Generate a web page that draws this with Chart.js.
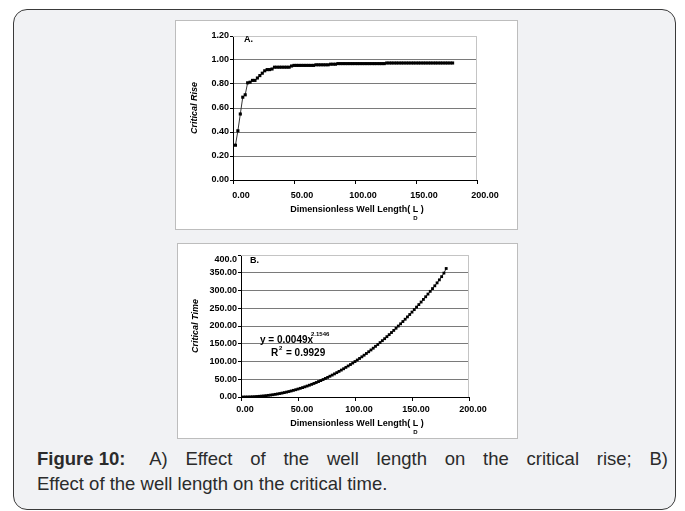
<!DOCTYPE html>
<html>
<head>
<meta charset="utf-8">
<script src="https://cdn.jsdelivr.net/npm/chart.js@4.4.0/dist/chart.umd.min.js"></script>
<style>
  body { margin: 0; width: 685px; height: 511px; position: relative; overflow: hidden; background: #fff;
         font-family: "Liberation Sans", Arial, sans-serif; }
  #frame { position: absolute; left: 13px; top: 9px; width: 663px; height: 501px; box-sizing: border-box;
           border: 1.5px solid #3a3a3a; border-radius: 14px; background: #f1f2f4; }
  .panel { position: absolute; background: #fff; border: 1px solid #bdbdbd; box-sizing: border-box; }
  #panelA { left: 175px; top: 20px; width: 343px; height: 210px; }
  #panelB { left: 177px; top: 243px; width: 341px; height: 196px; }
  canvas { position: absolute; }
  #chartA { left: 175px; top: 20px; }
  #chartB { left: 177px; top: 243px; }
  .cap { position: absolute; left: 37px; width: 631px; font-size: 18.5px; line-height: 25px; color: #2b2b2b; white-space: nowrap; }
  #cap1 { top: 446px; text-align: justify; text-align-last: justify; white-space: normal; }
  #cap1 b { display: inline-block; margin-right: 7px; }
  #cap2 { top: 471px; }
</style>
</head>
<body>
<div id="frame"></div>
<div class="panel" id="panelA"></div>
<div class="panel" id="panelB"></div>
<canvas id="chartA" width="343" height="210"></canvas>
<canvas id="chartB" width="341" height="196"></canvas>
<div class="cap" id="cap1"><b>Figure 10:</b> A) Effect of the well length on the critical rise; B)</div>
<div class="cap" id="cap2">Effect of the well length on the critical time.</div>

<script>
// dimensionless well length L_D (same points in both panels)
const wellLength = [2, 4, 6, 8, 10, 12, 14, 16, 18, 20, 22, 24, 26, 28, 30, 32, 34, 36, 38, 40,
    42, 44, 46, 48, 50, 52, 54, 56, 58, 60, 62, 64, 66, 68, 70, 72, 74, 76, 78, 80,
    82, 84, 86, 88, 90, 92, 94, 96, 98, 100, 102, 104, 106, 108, 110, 112, 114, 116, 118, 120,
    122, 124, 126, 128, 130, 132, 134, 136, 138, 140, 142, 144, 146, 148, 150, 152, 154, 156, 158, 160,
    162, 164, 166, 168, 170, 172, 174, 176, 178, 180];

// panel A: critical rise
const criticalRise = [0.29, 0.41, 0.55, 0.69, 0.71, 0.81, 0.815, 0.83, 0.83, 0.85, 0.87, 0.89, 0.91, 0.92, 0.92, 0.925,
    0.94, 0.94, 0.94, 0.94, 0.94, 0.94, 0.94, 0.95,
    0.955, 0.955, 0.955, 0.955, 0.955, 0.955, 0.955, 0.955, 0.955,
    0.96, 0.96, 0.96, 0.96, 0.96, 0.96, 0.965, 0.965, 0.965,
    0.97, 0.97, 0.97, 0.97, 0.97, 0.97, 0.97, 0.97, 0.97, 0.97,
    0.97, 0.97, 0.97, 0.97, 0.97, 0.97, 0.97, 0.97, 0.97, 0.97,
    0.975, 0.975, 0.975, 0.975, 0.975, 0.975, 0.975, 0.975, 0.975, 0.975,
    0.975, 0.975, 0.975, 0.975, 0.975, 0.975, 0.975, 0.975, 0.975, 0.975,
    0.975, 0.975, 0.975, 0.975, 0.975, 0.975, 0.975, 0.975];

// panel B: critical time
const criticalTime = [0.02, 0.10, 0.23, 0.43, 0.70, 1.04, 1.44, 1.93, 2.48, 3.11, 3.82, 4.61, 5.48, 6.43, 7.46,
    8.58, 9.77, 11.05, 12.42, 13.87, 15.40, 17.03, 18.74, 20.54, 22.43, 24.41, 26.48, 28.63, 30.87, 33.22,
    35.66, 38.18, 40.79, 43.50, 46.31, 49.20, 52.19, 55.28, 58.46, 61.75, 65.14, 68.60, 72.15, 75.82, 79.58,
    83.45, 87.42, 91.45, 95.62, 99.86, 104.2, 108.6, 113.2, 117.8, 122.6, 127.5, 132.5, 137.5, 142.7, 147.9,
    153.3, 158.7, 164.3, 170.0, 175.7, 181.6, 187.6, 193.7, 199.9, 206.2, 212.6, 219.1, 225.7, 232.4, 239.2,
    246.1, 253.2, 260.3, 267.5, 274.8, 282.4, 289.9, 297.6, 305.4, 313.2, 321.5, 330.0, 339.0, 349.0, 362.0];

const xTicksA = [0, 50, 100, 150, 200];
const yTicksA = [0, 0.2, 0.4, 0.6, 0.8, 1.0, 1.2];
const yTicksB = [0, 50, 100, 150, 200, 250, 300, 350, 400];

const FONT = '"Liberation Sans", Arial, sans-serif';
Chart.defaults.font.family = FONT;
Chart.defaults.color = '#000';

function pairs(xs, ys) {
    return xs.map(function (x, i) { return { x: x, y: ys[i] }; });
}

// light frame on top / right of the plot area (Excel style)
const plotFrame = {
    id: 'plotFrame',
    beforeDatasetsDraw(chart) {
        const a = chart.chartArea, ctx = chart.ctx;
        ctx.save();
        ctx.strokeStyle = '#c4c4c4';
        ctx.lineWidth = 1;
        ctx.beginPath();
        ctx.moveTo(a.left, a.top + 0.5);
        ctx.lineTo(a.right - 0.5, a.top + 0.5);
        ctx.lineTo(a.right - 0.5, a.bottom);
        ctx.stroke();
        ctx.restore();
    }
};

// panel letter, x title with subscript, optional trend text
const panelText = {
    id: 'panelText',
    afterDraw(chart, args, o) {
        const a = chart.chartArea, ctx = chart.ctx;
        ctx.save();
        ctx.fillStyle = '#000';
        ctx.textBaseline = 'middle';
        ctx.textAlign = 'left';
        ctx.font = 'bold 9px ' + FONT;
        ctx.fillText(o.letter, a.left + o.letterX, a.top + o.letterY);

        // Excel dropped the top label a little below its tick
        if (o.topLabel) {
            ctx.textAlign = 'right';
            ctx.fillText(o.topLabel, a.left - 4, chart.scales.y.getPixelForValue(chart.scales.y.max) + 5);
            ctx.textAlign = 'left';
        }

        const head = 'Dimensionless Well Length( ';
        const full = head + 'L )';
        const w = ctx.measureText(full).width;
        const x0 = (a.left + a.right) / 2 + o.titleShift - w / 2;
        const ty = a.bottom + o.titleY;
        ctx.fillText(full, x0, ty);
        const lx = x0 + ctx.measureText(head).width + ctx.measureText('L').width / 2;
        ctx.font = 'bold 6px ' + FONT;
        ctx.textAlign = 'center';
        ctx.fillText('D', lx, ty + 8);

        if (o.trend) {
            ctx.textAlign = 'left';
            o.trend.forEach(function (t) {
                ctx.font = 'bold ' + t.size + 'px ' + FONT;
                ctx.fillText(t.text, t.x - chart.canvas.offsetLeft, t.y - chart.canvas.offsetTop);
            });
        }
        ctx.restore();
    }
};

function fixWidth(w) { return function (s) { s.width = w; }; }
function fixHeight(h) { return function (s) { s.height = h; }; }

// ---- Panel A ----
new Chart(document.getElementById('chartA'), {
    type: 'scatter',
    data: {
        datasets: [{
            data: pairs(wellLength, criticalRise),
            showLine: true,
            borderColor: '#333',
            borderWidth: 1,
            pointStyle: 'rect',
            pointRadius: 2.2,
            pointBorderWidth: 0,
            pointBackgroundColor: '#000'
        }]
    },
    options: {
        responsive: false,
        animation: false,
        devicePixelRatio: 1,
        layout: { padding: { left: 0, top: 16, right: 41, bottom: 0 } },
        plugins: {
            legend: { display: false },
            tooltip: { enabled: false },
            panelText: { letter: 'A.', letterX: 11, letterY: 4, titleShift: 2, titleY: 30 }
        },
        scales: {
            x: {
                type: 'linear', min: 0, max: 200,
                afterFit: fixHeight(50),
                afterBuildTicks: function (s) { s.ticks = xTicksA.map(function (v) { return { value: v }; }); },
                ticks: { font: { size: 9, weight: 'bold' }, padding: 6, maxRotation: 0, labelOffset: 8,
                         callback: function (v) { return v.toFixed(2); } },
                grid: { drawOnChartArea: false, tickLength: 4, tickColor: '#000' },
                border: { color: '#000', width: 1 }
            },
            y: {
                min: 0, max: 1.2,
                afterFit: fixWidth(58),
                afterBuildTicks: function (s) { s.ticks = yTicksA.map(function (v) { return { value: v }; }); },
                ticks: { font: { size: 9, weight: 'bold' }, padding: 1,
                         callback: function (v) { return v.toFixed(2); } },
                grid: { color: function (c) { return c.tick && c.tick.value >= 1.2 ? '#d0d0d0' : '#7a7a7a'; },
                        tickLength: 3, tickColor: '#000' },
                border: { color: '#000', width: 1 },
                title: { display: true, text: 'Critical Rise', padding: { top: 14, bottom: 0 },
                         font: { size: 9, weight: 'bold', style: 'italic' } }
            }
        }
    },
    plugins: [plotFrame, panelText]
});

// ---- Panel B ----
new Chart(document.getElementById('chartB'), {
    type: 'scatter',
    data: {
        datasets: [{
            data: pairs(wellLength, criticalTime),
            showLine: true,
            borderColor: '#222',
            borderWidth: 1,
            pointStyle: 'rect',
            pointRadius: 2,
            pointBorderWidth: 0,
            pointBackgroundColor: '#000'
        }]
    },
    options: {
        responsive: false,
        animation: false,
        devicePixelRatio: 1,
        layout: { padding: { left: 0, top: 12, right: 49, bottom: 0 } },
        plugins: {
            legend: { display: false },
            tooltip: { enabled: false },
            panelText: {
                letter: 'B.', letterX: 9, letterY: 5.5, titleShift: 2, titleY: 27,
                topLabel: '400.0',
                trend: [
                    { text: 'y = 0.0049x', x: 260, y: 340, size: 10 },
                    { text: '2.1546', x: 311, y: 334, size: 6 },
                    { text: 'R', x: 271, y: 353, size: 10 },
                    { text: '2', x: 279, y: 348, size: 6 },
                    { text: '= 0.9929', x: 286, y: 353, size: 10 }
                ]
            }
        },
        scales: {
            x: {
                type: 'linear', min: 0, max: 200,
                afterFit: fixHeight(42),
                afterBuildTicks: function (s) { s.ticks = xTicksA.map(function (v) { return { value: v }; }); },
                ticks: { font: { size: 9, weight: 'bold' }, padding: 3, maxRotation: 0, labelOffset: 4,
                         callback: function (v) { return v.toFixed(2); } },
                grid: { drawOnChartArea: false, tickLength: 4, tickColor: '#000' },
                border: { color: '#000', width: 1 }
            },
            y: {
                min: 0, max: 400,
                afterFit: fixWidth(64),
                afterBuildTicks: function (s) { s.ticks = yTicksB.map(function (v) { return { value: v }; }); },
                ticks: { font: { size: 9, weight: 'bold' }, padding: 1,
                         callback: function (v) { return v === 400 ? '' : v.toFixed(2); } },
                grid: { color: function (c) { return c.tick && c.tick.value >= 400 ? '#d0d0d0' : '#7a7a7a'; },
                        tickLength: 3, tickColor: '#000' },
                border: { color: '#000', width: 1 },
                title: { display: true, text: 'Critical Time', padding: { top: 13, bottom: 0 },
                         font: { size: 9, weight: 'bold', style: 'italic' } }
            }
        }
    },
    plugins: [plotFrame, panelText]
});
</script>
</body>
</html>
